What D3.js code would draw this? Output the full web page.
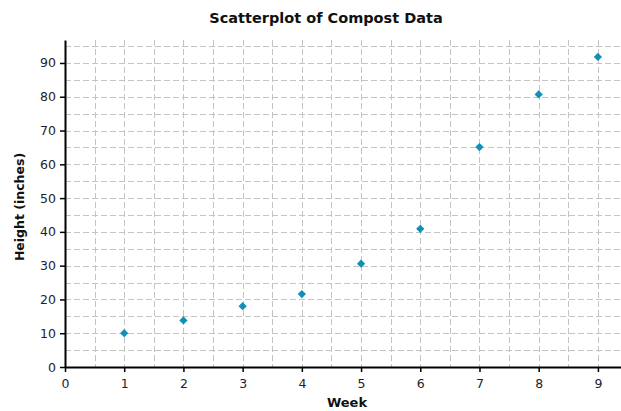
<!DOCTYPE html>
<html><head><meta charset="utf-8">
<script src="https://cdn.jsdelivr.net/npm/d3@7"></script>
<style>body{margin:0;background:#fff}svg{display:block}</style>
</head><body>
<script>
const weeks = [1,2,3,4,5,6,7,8,9];
const heights = [10,13.8,18,21.6,30.6,40.9,65.1,80.7,91.8];
const xTicks = [0,1,2,3,4,5,6,7,8,9];
const yTicks = [0,10,20,30,40,50,60,70,80,90];
const title = "Scatterplot of Compost Data";
const xLabel = "Week";
const yLabel = "Height (inches)";

(function(){
const W=621,H=411;
const svg=d3.select("body").append("svg").attr("width",W).attr("height",H);
const font="DejaVu Sans, Verdana, sans-serif";
const mLeft=65, mBottom=367, mTop=40, mRight=621;
const x=d3.scaleLinear().domain([0,9.39]).range([mLeft,mRight]);
const y=d3.scaleLinear().domain([0,96.8]).range([mBottom,mTop]);

const grid=svg.append("g").attr("stroke","#c4c4c4").attr("stroke-width",1).attr("stroke-dasharray","6,3");
d3.range(0.5,9.4,0.5).forEach(v=>{
  grid.append("line").attr("x1",Math.round(x(v))+0.5).attr("x2",Math.round(x(v))+0.5).attr("y1",mTop).attr("y2",mBottom);
});
d3.range(5,96,5).forEach(v=>{
  grid.append("line").attr("y1",Math.round(y(v))+0.5).attr("y2",Math.round(y(v))+0.5).attr("x1",mLeft).attr("x2",mRight);
});

const xa=svg.append("g").attr("transform",`translate(0,${mBottom})`)
  .call(d3.axisBottom(x).tickValues(xTicks).tickSize(5).tickSizeOuter(0).tickFormat(d3.format("d")));
const ya=svg.append("g").attr("transform",`translate(${mLeft},0)`)
  .call(d3.axisLeft(y).tickValues(yTicks).tickSize(5).tickSizeOuter(0).tickFormat(d3.format("d")));
[xa,ya].forEach(a=>{
  a.select(".domain").attr("stroke","#000").attr("stroke-width",2);
  a.selectAll(".tick line").attr("stroke","#000").attr("stroke-width",1.5);
  a.selectAll("text").attr("font-family",font).attr("font-size",12.5).attr("fill","#1e1e2a");
});
xa.selectAll("text").attr("dy","1.05em");
ya.selectAll("text").attr("dx","-1px");

svg.append("g").selectAll("path").data(weeks).join("path")
  .attr("d",d3.symbol(d3.symbolSquare,34)())
  .attr("transform",(d,i)=>`translate(${x(d)},${y(heights[i])}) rotate(45)`)
  .attr("fill","#118fb6");

svg.append("text").attr("x",326).attr("y",23).attr("text-anchor","middle")
  .attr("font-family",font).attr("font-weight","bold").attr("font-size",14.5).attr("fill","#111").text(title);
svg.append("text").attr("x",347).attr("y",407).attr("text-anchor","middle")
  .attr("font-family",font).attr("font-weight","bold").attr("font-size",13).attr("fill","#111").text(xLabel);
svg.append("text").attr("transform",`translate(24,207) rotate(-90)`).attr("text-anchor","middle")
  .attr("font-family",font).attr("font-weight","bold").attr("font-size",12.5).attr("fill","#111").text(yLabel);
})();
</script>
</body></html>
